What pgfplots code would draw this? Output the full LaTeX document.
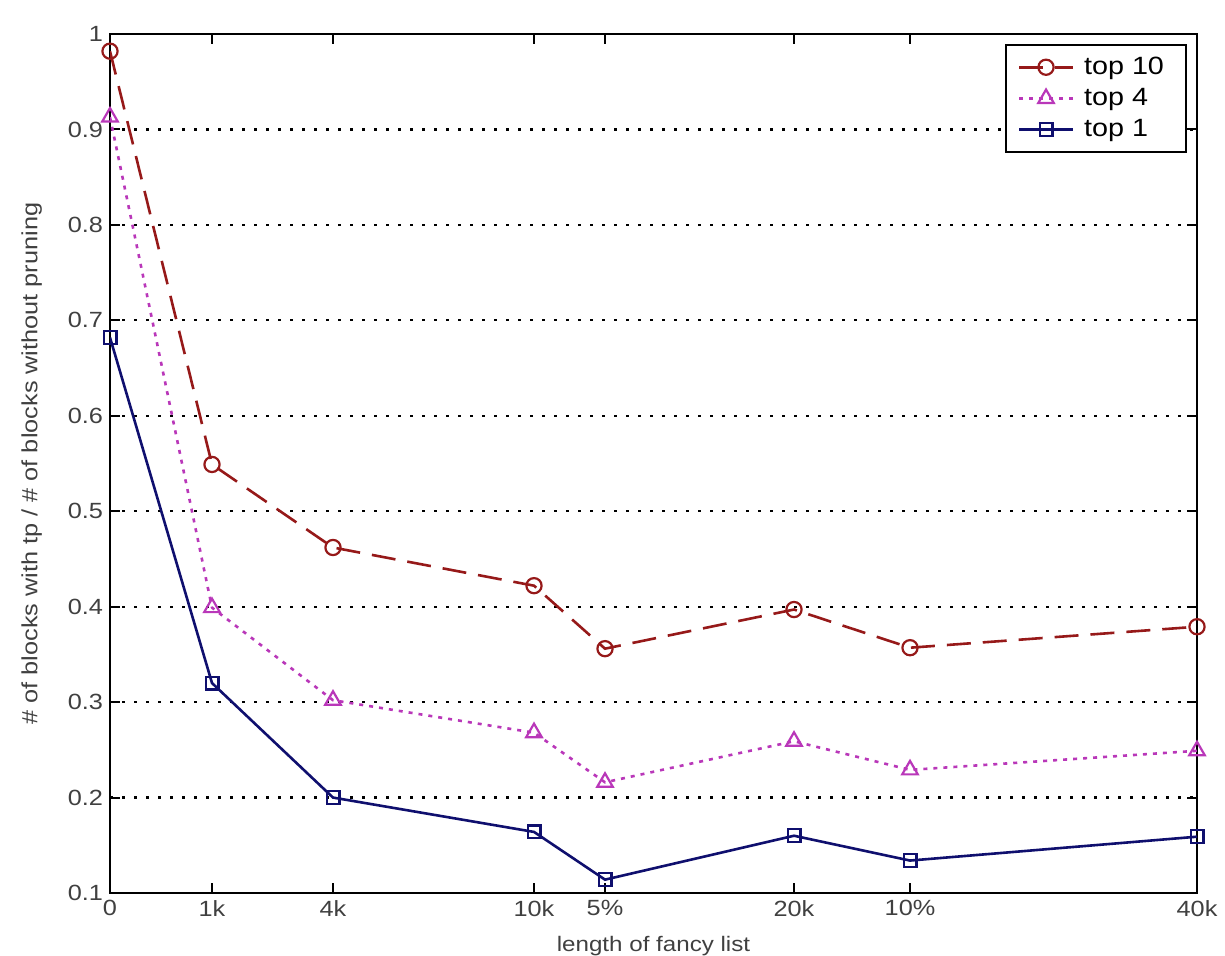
\documentclass[border=0pt]{standalone}
\usepackage{pgfplots}
\pgfplotsset{compat=1.18}
\usepackage{fontspec}
\setmainfont{Liberation Sans}[FakeStretch=1.15]
\definecolor{cTen}{RGB}{150,25,25}
\definecolor{cFour}{RGB}{185,55,185}
\definecolor{cOne}{RGB}{15,15,110}
\begin{document}
\begin{tikzpicture}
\path[use as bounding box] (0,0) rectangle (612.5pt,477.5pt);
\begin{axis}[
  at={(55pt,31pt)}, anchor=south west,
  scale only axis, width=543.5pt, height=429.5pt,
  xmin=0, xmax=108.7, ymin=0.1, ymax=1,
  xtick={0,10.2,22.3,42.4,49.5,68.4,80.0,108.7},
  xticklabels={0,1k,4k,10k,5\%,20k,10\%,40k},
  ytick={0.1,0.2,0.3,0.4,0.5,0.6,0.7,0.8,0.9,1},
  yticklabels={0.1,0.2,0.3,0.4,0.5,0.6,0.7,0.8,0.9,1},
  tick align=inside, major tick length=5pt,
  tick style={black, line width=1pt},
  axis line style={line width=1.3pt},
  ymajorgrids,
  grid style={black, line width=1.1pt, dash pattern=on 1.4pt off 4.6pt},
  ticklabel style={font=\fontsize{11}{13}\selectfont, text=black!75},
  /pgf/number format/assume math mode=true,
  xlabel={length of fancy list},
  ylabel={\# of blocks with tp / \# of blocks without pruning},
  xlabel style={font=\fontsize{10.5}{12}\selectfont, text=black!75, yshift=-3pt},
  ylabel style={font=\fontsize{11}{13}\selectfont, text=black!75, yshift=6pt},
  legend style={at={(1,1)}, anchor=north east, xshift=-5pt, yshift=-5pt,
    draw=black, line width=1pt, fill=white,
    font=\fontsize{12.5}{14}\selectfont, cells={anchor=west},
    row sep=1.5pt, inner xsep=6pt, inner ysep=4pt,
    nodes={inner xsep=5pt}},
  legend image code/.code={\draw[mark repeat=2,mark phase=2] plot coordinates {(0cm,0cm)(0.47cm,0cm)(0.94cm,0cm)};},
]
\addplot[cTen, line width=1.3pt, dash pattern=on 12pt off 6pt,
  mark=o, mark size=3.8pt, mark options={solid, fill=white, line width=1.1pt}]
  coordinates {(0,0.982)(10.2,0.549)(22.3,0.462)(42.4,0.422)(49.5,0.356)(68.4,0.397)(80.0,0.357)(108.7,0.379)};
\addlegendentry{top 10}
\addplot[cFour, line width=1.3pt, dash pattern=on 2pt off 3pt,
  mark=triangle, mark size=4.5pt, mark options={solid, fill=white, line width=1.1pt}]
  coordinates {(0,0.913)(10.2,0.399)(22.3,0.302)(42.4,0.268)(49.5,0.216)(68.4,0.259)(80.0,0.229)(108.7,0.249)};
\addlegendentry{top 4}
\addplot[cOne, line width=1.3pt,
  mark=square, mark size=3.2pt, mark options={solid, fill=white, line width=1.1pt}]
  coordinates {(0,0.682)(10.2,0.320)(22.3,0.200)(42.4,0.164)(49.5,0.114)(68.4,0.160)(80.0,0.134)(108.7,0.159)};
\addlegendentry{top 1}
\end{axis}
\end{tikzpicture}
\end{document}
